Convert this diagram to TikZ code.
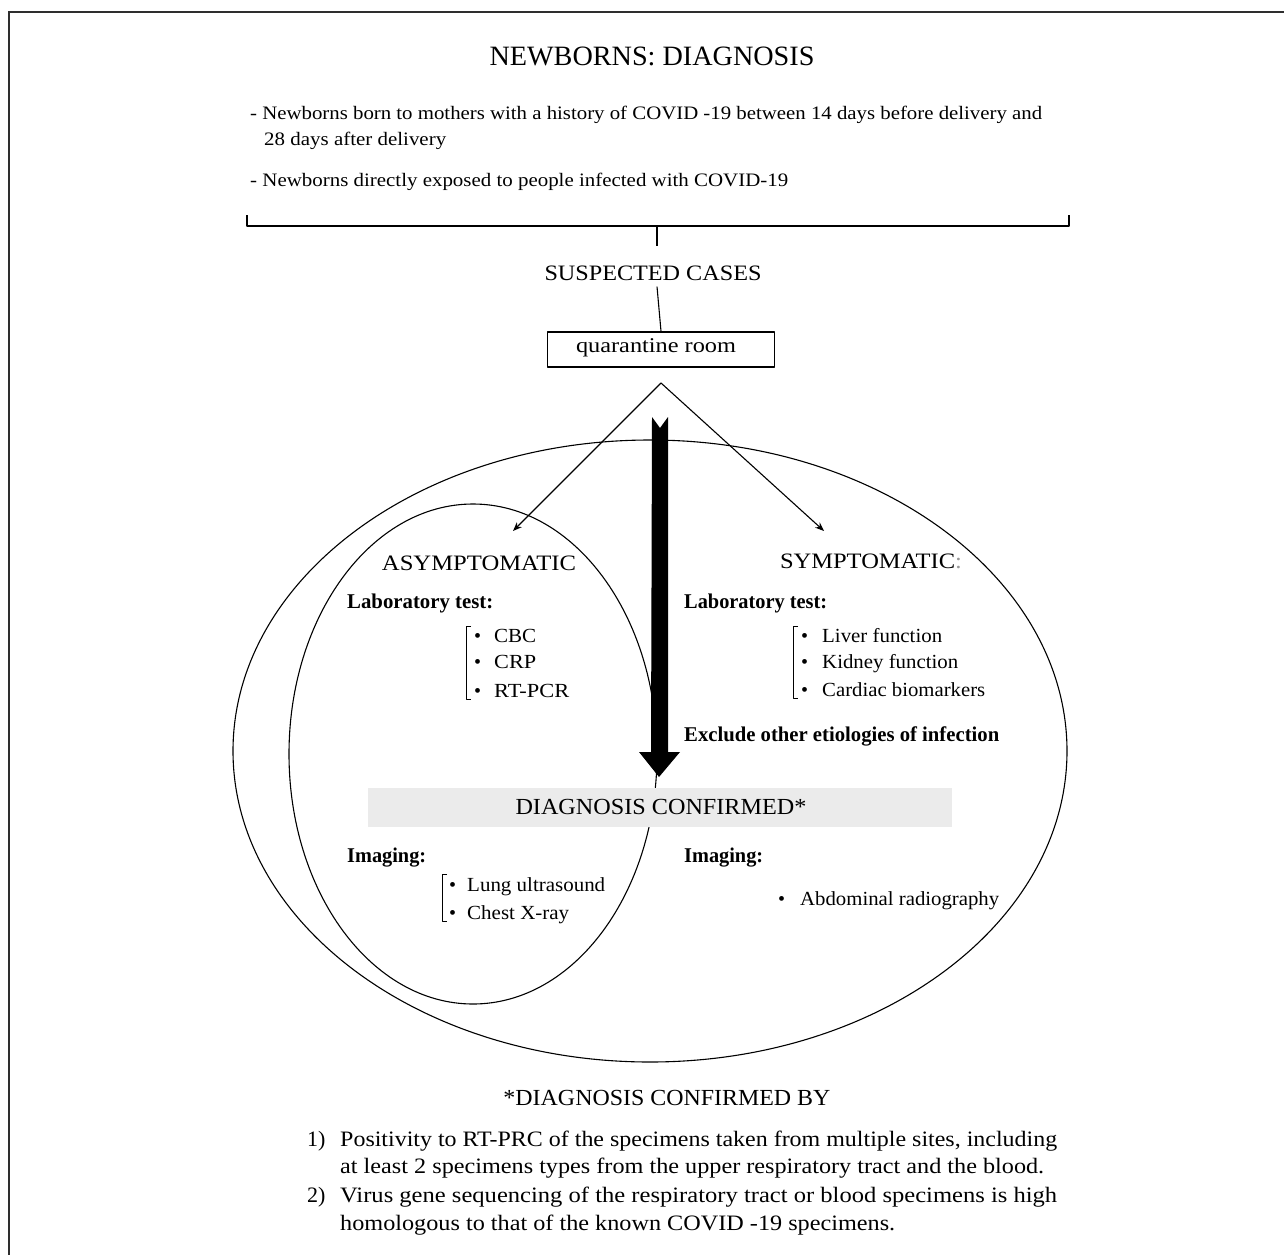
\documentclass[tikz,border=0pt]{standalone}
\usepackage{fontspec}
\setmainfont{Liberation Serif}
\usetikzlibrary{arrows.meta}
\newcommand{\fw}[2]{\resizebox{#1pt}{\height}{#2}}
\definecolor{bandgrey}{HTML}{EBEBEB}
\definecolor{framegrey}{HTML}{2E2E2E}
\begin{document}
\begin{tikzpicture}[x=1pt,y=-1pt,line join=round,
  txt/.style={inner sep=0pt,font=\fontsize{20}{24}\selectfont},
  lw/.style={txt,anchor=west},
  item/.style={txt,anchor=base west},
  boldtxt/.style={lw,font=\fontsize{21}{25}\selectfont\bfseries},
  capt/.style={txt,font=\fontsize{22}{26}\selectfont},
  thinline/.style={line width=1.1pt},
  arr/.style={thinline,-{Stealth[length=9pt,width=7pt]}},
  brk/.style={line width=1pt}]
\useasboundingbox (0,0) rectangle (1284,1255);
% frame
\draw[line width=2pt,framegrey] (8,12) -- (1284,12);
\draw[line width=2pt,framegrey] (9,12) -- (9,1255);

% title and criteria
\node[txt,font=\fontsize{28}{32}\selectfont] (title) at (652,56) {\fw{325}{NEWBORNS: DIAGNOSIS}};
\node[lw,font=\fontsize{19}{23}\selectfont] (c1a) at (250,115) {\fw{792}{- Newborns born to mothers with a history of COVID -19 between 14 days before delivery and}};
\node[lw,font=\fontsize{19}{23}\selectfont] (c1b) at (264,141) {\fw{182}{28 days after delivery}};
\node[lw,font=\fontsize{19}{23}\selectfont] (c2) at (250,182) {\fw{538}{- Newborns directly exposed to people infected with COVID-19}};

% brace
\coordinate (bl) at (247,215);
\coordinate (br) at (1069,215);
\coordinate (bm) at (657,226);
\coordinate (bs) at (657,246);
\draw[line width=1.6pt] (bl) -- (247,226) -- (1069,226) -- (br);
\draw[line width=1.6pt] (bm) -- (bs);

\node[capt] (sus) at (653,273) {\fw{217}{SUSPECTED CASES}};
\node[draw,line width=1.4pt,minimum width=227pt,minimum height=35pt,inner sep=0pt] (qbox) at (661,349.5) {};
\node[txt,font=\fontsize{21}{25}\selectfont] (qtxt) at (656,348) {\fw{160}{quarantine room}};
\draw[thinline] (sus.south) ++(4,6) coordinate (sl) (sl) -- (qbox.north);

% ellipses
\draw[thinline] (650,751) ellipse [x radius=417pt,y radius=311pt];
\draw[thinline] (473,754) ellipse [x radius=184pt,y radius=250pt];

% arrows from quarantine
\coordinate (apex) at (661,383);
\coordinate (lt) at (513,531);
\coordinate (rt) at (824,531);
\draw[arr] (apex) -- (lt);
\draw[arr] (apex) -- (rt);

% big arrow
\fill[black] (652,417) -- (660,428) -- (668,417) -- (668,752) -- (680,752) -- (659,777) -- (639,752) -- (651,752) -- cycle;

% asymptomatic
\node[capt] (asy) at (479,563) {\fw{194}{ASYMPTOMATIC}};
\node[boldtxt] (lab1) at (347,603) {\fw{146}{Laboratory test:}};
\draw[brk] (471,626) -- (466,626) -- (466,699) -- (471,699);
\node[item] (b1) at (474,642) {•};
\node[item] (cbc) at (494,642) {\fw{42}{CBC}};
\node[item] (b2) at (474,668) {•};
\node[item] (crp) at (494,668) {\fw{42}{CRP}};
\node[item] (b3) at (474,697) {•};
\node[item] (rtpcr) at (494,697) {\fw{75}{RT-PCR}};

% symptomatic
\node[capt] (sym) at (871,561) {\fw{182}{SYMPTOMATIC\textcolor{black!40}{:}}};
\node[boldtxt] (lab2) at (684,603) {\fw{143}{Laboratory test:}};
\draw[brk] (798,626) -- (793,626) -- (793,698) -- (798,698);
\node[item] (b4) at (801,642) {•};
\node[item] (liver) at (822,642) {\fw{120}{Liver function}};
\node[item] (b5) at (801,668) {•};
\node[item] (kid) at (822,668) {\fw{136}{Kidney function}};
\node[item] (b6) at (801,696) {•};
\node[item] (card) at (822,696) {\fw{163}{Cardiac biomarkers}};
\node[boldtxt] (excl) at (684,736) {\fw{315}{Exclude other etiologies of infection}};

% diagnosis band
\fill[bandgrey] (368,788) rectangle (952,827);
\node[capt,font=\fontsize{23}{27}\selectfont] (dc) at (661,807) {\fw{291}{DIAGNOSIS CONFIRMED*}};

% imaging
\node[boldtxt] (img1) at (347,858) {\fw{79}{Imaging:}};
\draw[brk] (447,874) -- (442,874) -- (442,921) -- (447,921);
\node[item] (b7) at (449,891) {•};
\node[item] (lung) at (467,891) {\fw{138}{Lung ultrasound}};
\node[item] (b8) at (449,919) {•};
\node[item] (chest) at (467,919) {\fw{102}{Chest X-ray}};
\node[boldtxt] (img2) at (684,858) {\fw{79}{Imaging:}};
\node[item] (b9) at (778,905) {•};
\node[item] (abd) at (800,905) {\fw{199}{Abdominal radiography}};

% footnote
\node[capt,font=\fontsize{23}{27}\selectfont] (fn) at (667,1098) {\fw{327}{*DIAGNOSIS CONFIRMED BY}};
\node[lw,font=\fontsize{22}{26}\selectfont] (n1) at (307,1141) {1)};
\node[lw,font=\fontsize{22}{26}\selectfont] (f1a) at (340,1141) {\fw{717}{Positivity to RT-PRC of the specimens taken from multiple sites, including}};
\node[lw,font=\fontsize{22}{26}\selectfont] (f1b) at (340,1168) {\fw{704}{at least 2 specimens types from the upper respiratory tract and the blood.}};
\node[lw,font=\fontsize{22}{26}\selectfont] (n2) at (307,1197) {2)};
\node[lw,font=\fontsize{22}{26}\selectfont] (f2a) at (340,1197) {\fw{717}{Virus gene sequencing of the respiratory tract or blood specimens is high}};
\node[lw,font=\fontsize{22}{26}\selectfont] (f2b) at (340,1225) {\fw{555}{homologous to that of the known COVID -19 specimens.}};
\end{tikzpicture}
\end{document}
